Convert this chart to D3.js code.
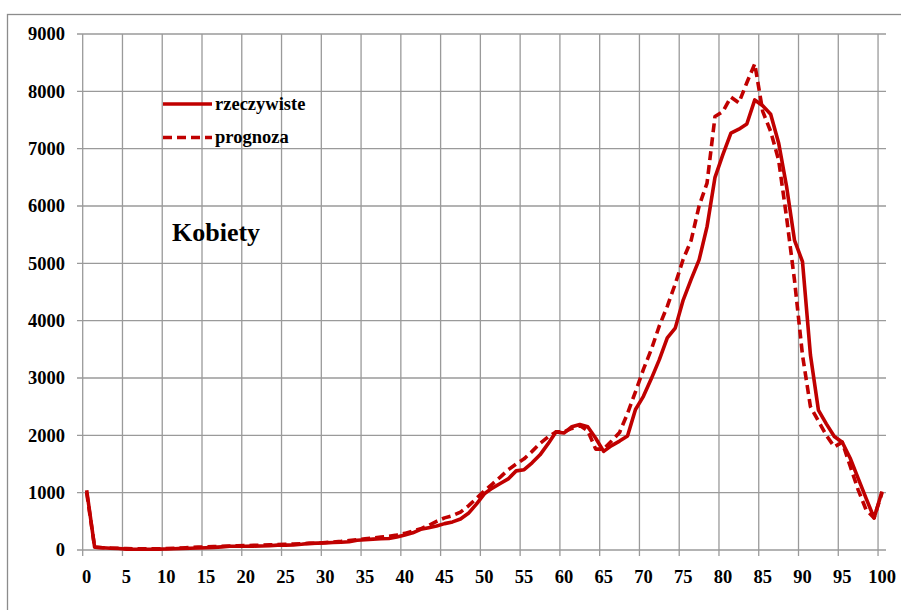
<!DOCTYPE html>
<html>
<head>
<meta charset="utf-8">
<script src="https://cdn.jsdelivr.net/npm/d3@7"></script>
<style>
body { margin:0; background:#fff; }
text { font-family:"Liberation Serif", "Times New Roman", serif; font-weight:bold; fill:#000; }
</style>
</head>
<body>
<div id="chart"></div>
<script>
var ages = d3.range(0, 101);
var actual = [1040, 50, 40, 30, 25, 15, 12, 12, 12, 15,
    18, 22, 28, 30, 35, 40, 45, 55, 65, 65,
    65, 68, 70, 75, 85, 85, 90, 100, 115, 120,
    125, 130, 135, 145, 170, 180, 190, 195, 200, 225,
    260, 300, 360, 390, 420, 460, 490, 540, 640, 800,
    980, 1080, 1160, 1240, 1380, 1400, 1520, 1660, 1850, 2060,
    2040, 2150, 2190, 2150, 1950, 1720, 1820, 1900, 1990, 2450,
    2680, 2990, 3320, 3700, 3870, 4360, 4720, 5060, 5640, 6500,
    6900, 7270, 7340, 7430, 7850, 7750, 7600, 7100, 6340, 5400,
    5030, 3400, 2440, 2200, 1980, 1880, 1600, 1250, 900, 560,
    1020];
var forecast = [1000, 50, 40, 35, 30, 25, 20, 20, 20, 22,
    25, 30, 35, 45, 50, 55, 60, 65, 70, 75,
    78, 80, 85, 90, 95, 100, 105, 110, 115, 120,
    130, 140, 150, 165, 180, 195, 210, 225, 240, 260,
    290, 330, 370, 430, 500, 560, 600, 660, 770, 900,
    1030, 1150, 1270, 1400, 1500, 1590, 1720, 1860, 1970, 2060,
    2060, 2120, 2170, 2080, 1760, 1760, 1900, 2050, 2380, 2760,
    3150, 3500, 3910, 4250, 4640, 5070, 5400, 6000, 6400, 7560,
    7650, 7900, 7800, 8150, 8480, 7650, 7300, 6800, 5800, 4700,
    3400, 2500, 2250, 2000, 1800, 1880, 1460, 1050, 700, 560,
    1000];
var yTicks = d3.range(0, 9001, 1000);
var xTicks = d3.range(0, 101, 5);
var seriesNames = ["rzeczywiste", "prognoza"];
var title = "Kobiety";

var widthPage = 901;
var heightPage = 610;
var red = "#c00000";

var svg = d3.select("#chart").append("svg").attr("width", widthPage).attr("height", heightPage);

// outer frame
svg.append("rect").attr("x", 7.5).attr("y", 14.5).attr("width", 920).attr("height", 620)
    .attr("fill", "none").attr("stroke", "#8c8c8c").attr("stroke-width", 1.3);

// category axis: each age occupies one slot, gridlines on slot edges
var x = d3.scaleLinear().domain([0, 101]).range([82.7, 886]);
var y = d3.scaleLinear().domain([0, 9000]).range([550, 34]);

var grid = svg.append("g").attr("stroke", "#9a9a9a").attr("stroke-width", 1.3);
grid.selectAll(".hg").data(yTicks).enter().append("line")
    .attr("x1", 77).attr("x2", 886)
    .attr("y1", d => y(d)).attr("y2", d => y(d));
grid.selectAll(".vg").data(xTicks).enter().append("line")
    .attr("x1", d => x(d)).attr("x2", d => x(d))
    .attr("y1", y(9000)).attr("y2", 556);

svg.selectAll(".ylab").data(yTicks).enter().append("text")
    .attr("x", 65).attr("y", d => y(d)).attr("dy", "0.35em")
    .attr("text-anchor", "end").attr("font-size", "18.5px").text(d => d);
svg.selectAll(".xlab").data(xTicks).enter().append("text")
    .attr("x", d => x(d + 0.5)).attr("y", 583)
    .attr("text-anchor", "middle").attr("font-size", "18.5px").text(d => d);

var line = d3.line().x((d, i) => x(ages[i] + 0.5)).y(d => y(d));

svg.append("path").datum(forecast).attr("d", line)
    .attr("fill", "none").attr("stroke", red).attr("stroke-width", 3.6)
    .attr("stroke-dasharray", "9,5").attr("stroke-linejoin", "round");
svg.append("path").datum(actual).attr("d", line)
    .attr("fill", "none").attr("stroke", red).attr("stroke-width", 3.6)
    .attr("stroke-linejoin", "round");

// legend
var legend = svg.append("g");
legend.selectAll("line").data(seriesNames).enter().append("line")
    .attr("x1", 163).attr("x2", 212)
    .attr("y1", (d, i) => 104 + i * 33.5).attr("y2", (d, i) => 104 + i * 33.5)
    .attr("stroke", red).attr("stroke-width", 3.6)
    .attr("stroke-dasharray", (d, i) => i === 1 ? "9,5" : null);
legend.selectAll("text").data(seriesNames).enter().append("text")
    .attr("x", 215).attr("y", (d, i) => 104 + i * 33.5).attr("dy", "0.32em")
    .attr("font-size", "18.5px").text(d => d);

svg.append("text").attr("x", 172).attr("y", 241).attr("font-size", "26px").text(title);
</script>
</body>
</html>
